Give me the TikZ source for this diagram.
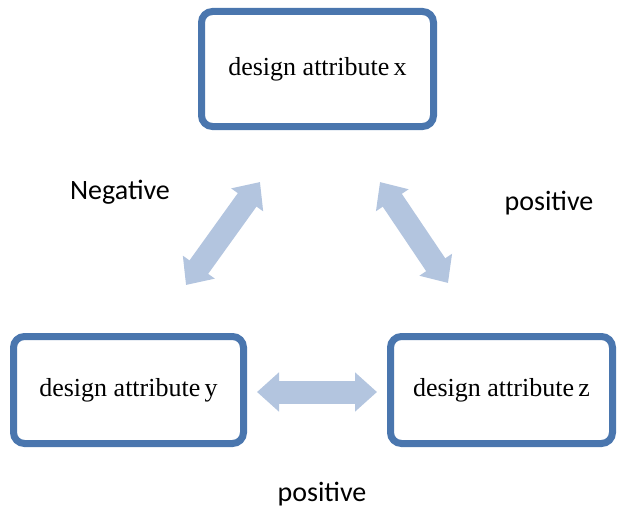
\documentclass[tikz,border=0pt]{standalone}
\usepackage{fontspec}
\setmainfont{Liberation Serif}
\newfontfamily\calib{Carlito}
\usetikzlibrary{arrows.meta}
\definecolor{boxblue}{HTML}{4A76AE}
\definecolor{arrowblue}{HTML}{B3C5DF}
\tikzset{
  attrbox/.style={draw=boxblue, line width=7pt, rounded corners=11pt, fill=white,
    inner sep=0pt, font=\fontsize{26}{30}\selectfont},
  blockarrow/.style={draw=arrowblue, line width=23pt, line cap=butt,
    {Triangle[length=22pt,width=38pt]}-{Triangle[length=22pt,width=38pt]}},
  lbl/.style={font=\calib\fontsize{28}{32}\selectfont, inner sep=0pt}
}
\begin{document}
\begin{tikzpicture}[x=1pt,y=-1pt]
\useasboundingbox (0,0) rectangle (618,511);
\node[attrbox, minimum width=232pt, minimum height=115pt] (x) at (317.5,69) {design attribute\,x};
\node[attrbox, minimum width=230pt, minimum height=107pt] (y) at (128.5,390) {design attribute\,y};
\node[attrbox, minimum width=222pt, minimum height=107pt] (z) at (501.5,390) {design attribute\,z};
\coordinate (xyA) at (260,182);
\coordinate (xyB) at (186,285);
\coordinate (xzA) at (380,182);
\coordinate (xzB) at (448,283);
\coordinate (yzA) at (257,392);
\coordinate (yzB) at (377,392);
\draw[blockarrow] (xyB) -- (xyA);
\draw[blockarrow] (xzA) -- (xzB);
\draw[blockarrow] (yzA) -- (yzB);
\node[lbl] (neg) at (120,192) {Negative};
\node[lbl] (pos1) at (549,203) {positive};
\node[lbl] (pos2) at (322,494) {positive};
\end{tikzpicture}
\end{document}
